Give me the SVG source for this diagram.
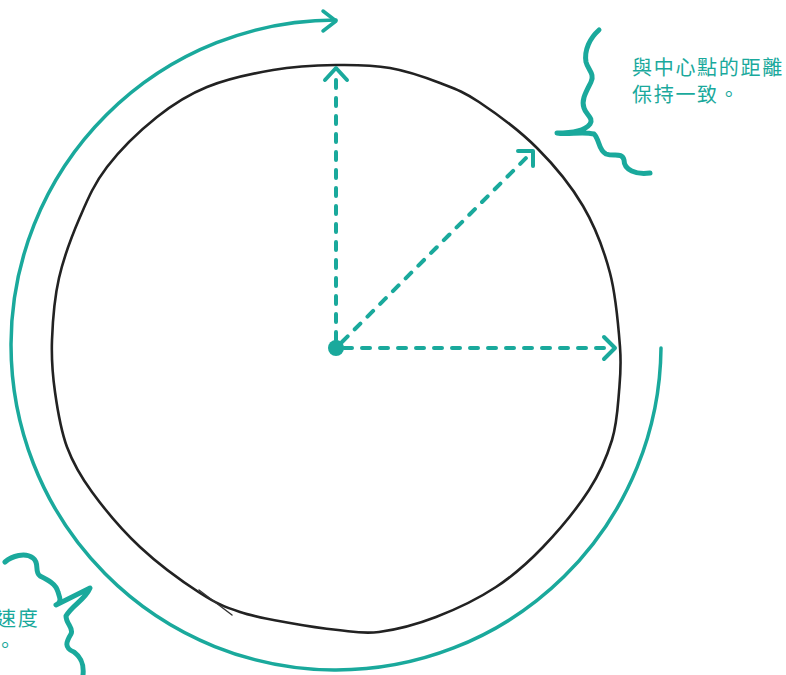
<svg xmlns="http://www.w3.org/2000/svg" width="786" height="675" viewBox="0 0 786 675">
<defs>
<style>
.teal{fill:none;stroke:#1aa99c;stroke-linecap:round;stroke-linejoin:round}
.dash{stroke-width:4;stroke-dasharray:8 10}
.head{stroke-width:4}
.orbit{stroke-width:3.5}
.squig{stroke-width:5}
.ink{fill:none;stroke:#222;stroke-width:2.6;stroke-linecap:round;stroke-linejoin:round}
.lbl{font-family:"Noto Sans CJK TC","Noto Sans CJK SC",sans-serif;font-size:20px;fill:#1aa99c;letter-spacing:1.7px}
</style>
</defs>
<rect width="786" height="675" fill="#fff"/>
<g id="circle">
<path class="ink" d="M336 65 C355.5 64.7,372.7 65,390 68 C407.3 71,425.2 77.3,440 83 C454.8 88.7,462.8 91.2,479 102 C495.2 112.8,519.7 130.7,537 148 C554.3 165.3,570.8 185.2,583 206 C595.2 226.8,603.8 249.5,610 273 C616.2 296.5,618.5 327.2,620 347 C621.5 366.8,620.3 376.5,619 392 C617.7 407.5,617 423.7,612 440 C607 456.3,600.5 472.2,589 490 C577.5 507.8,558.5 530.8,543 547 C527.5 563.2,513.8 575.3,496 587 C478.2 598.7,455.5 609.5,436 617 C416.5 624.5,395.3 629.8,379 632 C362.7 634.2,352.8 631.5,338 630 C323.2 628.5,306.3 626,290 623 C273.7 620,255 617,240 612 C225 607,216.7 603.8,200 593 C183.3 582.2,158 563.8,140 547 C122 530.2,104.2 508.7,92 492 C79.8 475.3,73.2 463.7,67 447 C60.8 430.3,57.5 409.8,55 392 C52.5 374.2,51.3 359,52 340 C52.7 321,54.3 298.5,59 278 C63.7 257.5,72 235.5,80 217 C88 198.5,94.2 183.7,107 167 C119.8 150.3,140.3 130.3,157 117 C173.7 103.7,187.7 94.8,207 87 C226.3 79.2,251.5 73.7,273 70 C294.5 66.3,316.5 65.3,336 65 Z"/>
<path d="M199 590 L232 615" fill="none" stroke="#333" stroke-width="1.4" stroke-linecap="round"/>
</g>
<g id="orbit">
<path class="teal orbit" d="M661 348 A325 325 0 1 1 336 20"/>
<polyline class="teal orbit" points="323,11 336,21 323,31"/>
</g>
<g id="connectors">
<line class="teal dash" x1="336" y1="340" x2="336" y2="72"/>
<polyline class="teal head" points="325,80 336,68 347,80"/>
<line class="teal dash" x1="342" y1="342" x2="530" y2="154"/>
<polyline class="teal head" points="518,151 533,151 533,166"/>
<line class="teal dash" x1="344" y1="348" x2="611" y2="348"/>
<polyline class="teal head" points="604,337 615,348 604,359"/>
</g>
<g id="center">
<circle cx="336" cy="348" r="8" fill="#1aa99c"/>
</g>
<g id="label-distance">
<path class="teal squig" d="M599 30 C590 38,584 50,586 62 C588 70,595 74,591 82 C586 92,581 100,584 108 C586 115,594 118,590 124 C584 132,570 133,557 133 C568 135,582 131,594 134 C600 140,598 150,606 154 C614 157,622 152,624 160 C624 170,636 175,650 173"/>
<text class="lbl" x="632" y="75">與中心點的距離</text>
<text class="lbl" x="632" y="102">保持一致。</text>
</g>
<g id="label-speed">
<path class="teal squig" d="M5 562 C12 556,25 552,33 558 C40 563,34 572,40 576 C48 580,56 584,58 592 C60 598,62 602,56 605 L90 588 C85 600,72 605,66 616 C66 624,74 628,71 634 C66 642,64 648,74 652 C82 658,84 665,83 675"/>
<text class="lbl" x="-4" y="626">速度</text>
<text class="lbl" x="-5" y="653">。</text>
</g>
</svg>
